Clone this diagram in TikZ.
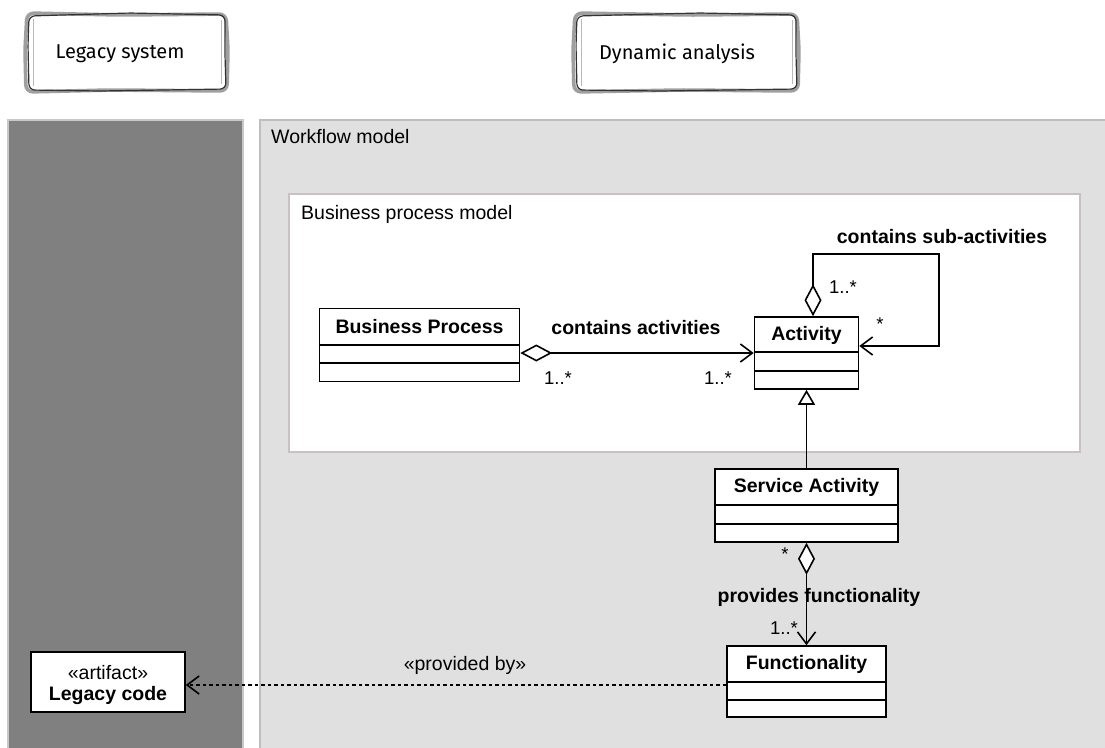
\documentclass[tikz,border=0pt]{standalone}
\usepackage{fontspec}
\setmainfont{Liberation Sans}
\newfontfamily\sketchfont{Fira Sans}
\usetikzlibrary{arrows.meta}

\definecolor{colgray}{HTML}{808080}
\definecolor{colframe}{HTML}{C8C8C8}
\definecolor{areagray}{HTML}{E0E0E0}
\definecolor{areaframe}{HTML}{BEBEBE}
\definecolor{bpframe}{HTML}{C9BFC5}

\tikzset{
  umlbox/.style={draw=black, fill=white, line width=1.6pt, inner sep=0pt},
  umlline/.style={draw=black, line width=1.6pt},
  lbl/.style={inner sep=0pt, font=\fontsize{19.5}{22}\selectfont},
  blbl/.style={inner sep=0pt, font=\fontsize{19.5}{22}\selectfont\bfseries},
  mult/.style={inner sep=0pt, font=\fontsize{18.5}{20}\selectfont},
  navtip/.style={-{Straight Barb[length=12pt,width=18pt,line width=1.6pt]}},
  aggnav/.style={{Diamond[open,fill=white,length=32pt,width=17pt,line width=1.6pt]}-{Straight Barb[length=12pt,width=18pt,line width=1.6pt]}},
  gentip/.style={-{Triangle[open,fill=white,length=15pt,width=17pt,line width=1.6pt]}},
  sketchshade/.style={draw=gray!75, line width=3.6pt, rounded corners=7pt},
  sketchpen/.style={draw=black!80, line width=1.2pt, rounded corners=6pt},
  sketchtext/.style={inner sep=0pt, font=\sketchfont\fontsize{20}{22}\selectfont}
}

\newcommand{\compartments}[3]{%
  \draw[umlline] (#1.west |- 0,#2) -- (#1.east |- 0,#2);
  \draw[umlline] (#1.west |- 0,#3) -- (#1.east |- 0,#3);}

\begin{document}
\begin{tikzpicture}[x=1pt,y=-1pt]
\useasboundingbox (0,0) rectangle (1105,747);
\clip (0,0) rectangle (1105,747);

% hand-drawn header boxes
\draw[sketchshade] (27,13) -- (120,15) -- (226,14) -- (228,50) -- (227,91) -- (110,90) -- (26,92) -- (25,50) -- cycle;
\draw[sketchpen] (29,16) -- (130,13) -- (225,15) -- (225,55) -- (226,89) -- (100,91) -- (29,90) -- (28,45) -- cycle;
\draw[draw=gray!55, line width=1pt] (33,19) -- (33,86);
\draw[draw=gray!55, line width=1pt] (221,20) -- (221,84);
\node[sketchtext] (legsys) at (120,54) {Legacy system};

\draw[sketchshade] (575,13) -- (690,15) -- (797,14) -- (799,50) -- (798,91) -- (680,90) -- (574,92) -- (573,50) -- cycle;
\draw[sketchpen] (577,16) -- (700,13) -- (796,15) -- (796,55) -- (797,89) -- (660,91) -- (577,90) -- (576,45) -- cycle;
\draw[draw=gray!55, line width=1pt] (581,19) -- (581,86);
\draw[draw=gray!55, line width=1pt] (792,20) -- (792,84);
\node[sketchtext] (dynan) at (677,54) {Dynamic analysis};

% legacy system lane
\draw[fill=colgray, draw=colframe, line width=1.5pt] (8,120) rectangle (243,760);

% workflow model area
\draw[fill=areagray, draw=areaframe, line width=1.2pt] (260,120) rectangle (1120,760);
\node[lbl, anchor=west] (wflabel) at (271,137) {Workflow model};

% business process model frame
\draw[fill=white, draw=bpframe, line width=1.5pt] (289,194) rectangle (1080,452);
\node[lbl, anchor=west] (bplabel) at (301,214) {Business process model};

% classes
\node[umlbox, minimum width=200pt, minimum height=73pt] (bp) at (419.5,345) {};
\compartments{bp}{345}{363}
\node[blbl] (bpname) at (bp.north |- 0,327) {Business Process};

\node[umlbox, minimum width=104pt, minimum height=72pt] (act) at (806.5,353) {};
\compartments{act}{352}{371}
\node[blbl] (actname) at (act.north |- 0,335) {Activity};

\node[umlbox, minimum width=183pt, minimum height=73pt] (sa) at (806.5,505.5) {};
\compartments{sa}{505}{524}
\node[blbl] (saname) at (sa.north |- 0,487) {Service Activity};

\node[umlbox, minimum width=159pt, minimum height=71pt] (fn) at (806.5,681.5) {};
\compartments{fn}{682}{700}
\node[blbl] (fnname) at (fn.north |- 0,664) {Functionality};

\node[umlbox, minimum width=154pt, minimum height=60pt] (lc) at (108,682) {};
\node[lbl] (lcster) at (108,673) {«artifact»};
\node[blbl] (lcname) at (108,695) {Legacy code};

% contains activities
\draw[umlline, aggnav] (bp.east |- 0,353) -- (act.west |- 0,353);
\node[blbl] (cal) at (636,328) {contains activities};
\node[mult] (m1) at (558,378) {1..*};
\node[mult] (m2) at (718,378) {1..*};

% contains sub-activities (self association)
\coordinate (loopa) at (813,254);
\coordinate (loopb) at (939,254);
\coordinate (loopc) at (939,346);
\draw[umlline, aggnav] (act.north -| loopa) -- (loopa) -- (loopb) -- (loopc) -- (act.east |- loopc);
\node[blbl] (csl) at (942,237) {contains sub-activities};
\node[mult] (m3) at (843,287) {1..*};
\node[mult] (m4) at (880,324) {*};

% generalization
\draw[umlline, gentip] (sa.north) -- (act.south);

% provides functionality
\draw[umlline, aggnav] (sa.south) -- (fn.north);
\node[blbl] (pfl) at (819,597) {provides functionality};
\node[mult] (m5) at (785,554) {*};
\node[mult] (m6) at (784,628) {1..*};

% dependency to legacy code
\draw[umlline, dash pattern=on 3.5pt off 3pt, navtip] (fn.west |- 0,685) -- (lc.east |- 0,685);
\node[lbl] (pbl) at (465,665) {«provided by»};
\end{tikzpicture}
\end{document}
